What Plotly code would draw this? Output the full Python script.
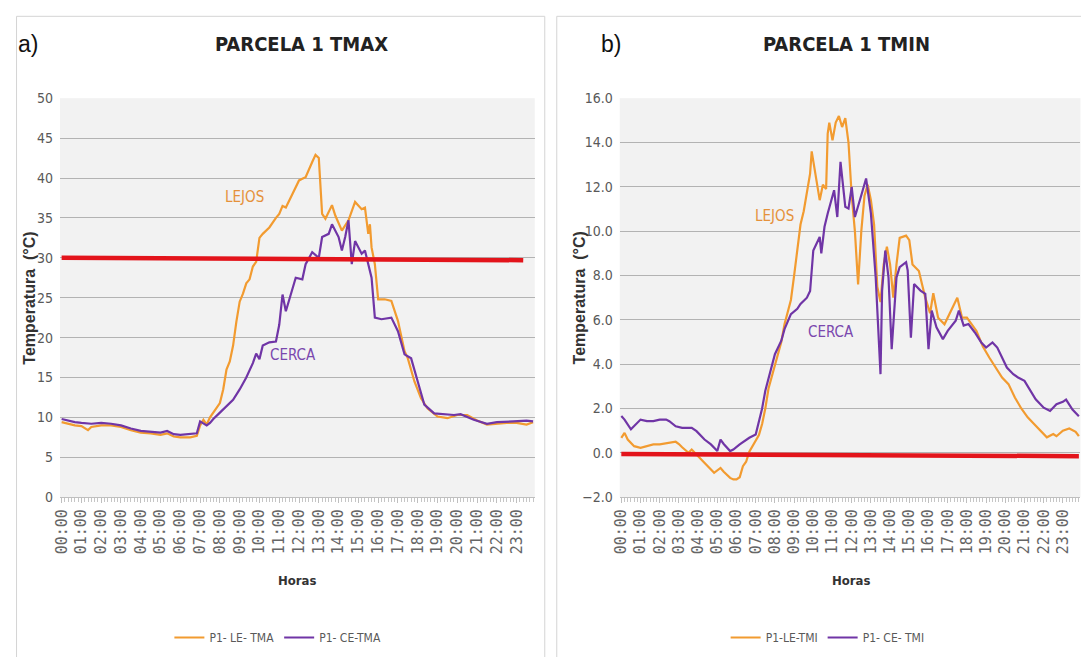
import plotly.graph_objects as go

# ---------------- DATA ----------------
hour_labels = ["00:00", "01:00", "02:00", "03:00", "04:00", "05:00", "06:00", "07:00",
               "08:00", "09:00", "10:00", "11:00", "12:00", "13:00", "14:00", "15:00",
               "16:00", "17:00", "18:00", "19:00", "20:00", "21:00", "22:00", "23:00"]

# a) PARCELA 1 TMAX - LEJOS (P1- LE- TMA)
tmax_lejos_t = ["00:00", "00:20", "00:40", "01:00", "01:20", "01:30", "02:00", "02:30", "03:00", "03:30",
                "04:00", "04:30", "05:00", "05:20", "05:40", "06:00", "06:30", "06:50", "07:00", "07:10",
                "07:20", "07:30", "07:40", "08:00", "08:10", "08:20", "08:30", "08:40", "08:50", "09:00",
                "09:10", "09:20", "09:30", "09:40", "09:50", "10:00", "10:10", "10:30", "10:50", "11:00",
                "11:10", "11:20", "11:40", "12:00", "12:10", "12:20", "12:40", "12:50", "13:00", "13:10",
                "13:20", "13:40", "13:50", "14:10", "14:30", "14:50", "15:10", "15:20", "15:30", "15:35",
                "15:40", "15:50", "16:00", "16:20", "16:40", "17:00", "17:20", "17:30", "17:50", "18:10",
                "18:30", "19:00", "19:30", "20:00", "20:30", "21:00", "21:30", "22:00", "22:30", "23:00",
                "23:30", "23:50"]
tmax_lejos_v = [9.4, 9.2, 9.0, 8.9, 8.4, 8.8, 9.0, 9.0, 8.8, 8.4,
                8.1, 8.0, 7.8, 8.0, 7.6, 7.5, 7.5, 7.7, 9.0, 9.7,
                9.1, 10.0, 10.6, 11.8, 13.5, 16.0, 17.0, 19.0, 22.0, 24.5,
                25.5, 26.8, 27.3, 28.9, 29.5, 32.5, 33.0, 33.8, 35.0, 35.5,
                36.5, 36.3, 38.0, 39.7, 39.9, 40.1, 42.0, 42.9, 42.5, 35.5,
                34.9, 36.6, 35.3, 33.4, 34.7, 37.0, 36.1, 36.3, 33.0, 34.2,
                31.3, 29.2, 24.8, 24.8, 24.6, 22.1, 18.3, 17.4, 14.5, 12.4,
                11.1, 10.1, 9.9, 10.3, 10.3, 9.6, 9.1, 9.2, 9.3, 9.3,
                9.1, 9.4]

# a) PARCELA 1 TMAX - CERCA (P1- CE-TMA)
tmax_cerca_t = ["00:00", "00:20", "00:40", "01:00", "01:30", "02:00", "02:30", "03:00", "03:30", "04:00",
                "04:30", "05:00", "05:20", "05:40", "06:00", "06:30", "06:50", "07:00", "07:10", "07:20",
                "07:30", "07:40", "08:00", "08:20", "08:40", "09:00", "09:20", "09:40", "09:50", "10:00",
                "10:10", "10:30", "10:50", "11:00", "11:10", "11:20", "11:40", "11:50", "12:10", "12:20",
                "12:40", "13:00", "13:10", "13:30", "13:40", "14:00", "14:10", "14:20", "14:30", "14:40",
                "14:50", "15:10", "15:20", "15:40", "15:50", "16:10", "16:40", "17:00", "17:20", "17:40",
                "18:00", "18:20", "18:50", "19:50", "20:10", "20:50", "21:30", "22:00", "22:50", "23:30",
                "23:50"]
tmax_cerca_v = [9.8, 9.6, 9.4, 9.3, 9.2, 9.3, 9.2, 9.0, 8.6, 8.3,
                8.2, 8.1, 8.3, 7.9, 7.8, 7.9, 8.0, 9.5, 9.3, 9.0,
                9.3, 9.8, 10.6, 11.4, 12.2, 13.5, 15.0, 16.8, 18.0, 17.3,
                19.0, 19.4, 19.5, 21.6, 25.4, 23.3, 26.3, 27.5, 27.3, 29.2,
                30.7, 30.0, 32.6, 33.0, 34.2, 32.6, 30.9, 32.6, 34.7, 29.2,
                32.1, 30.5, 30.9, 27.5, 22.5, 22.3, 22.5, 20.8, 17.9, 17.4,
                14.5, 11.6, 10.5, 10.3, 10.4, 9.7, 9.2, 9.4, 9.5, 9.6,
                9.5]

# a) umbral 30 °C
tmax_umbral_t = ["00:00", "23:20"]
tmax_umbral_v = [30.0, 29.7]

# b) PARCELA 1 TMIN - LEJOS (P1-LE-TMI)
tmin_lejos_t = ["00:00", "00:10", "00:20", "00:40", "01:00", "01:20", "01:40", "02:00", "02:20", "02:40",
                "02:50", "03:00", "03:10", "03:30", "03:40", "04:00", "04:20", "04:40", "04:50", "05:10",
                "05:20", "05:40", "05:50", "06:00", "06:10", "06:20", "06:30", "06:40", "06:50", "07:00",
                "07:10", "07:20", "07:30", "07:40", "08:00", "08:20", "08:30", "08:50", "09:00", "09:10",
                "09:20", "09:30", "09:40", "09:50", "09:55", "10:10", "10:20", "10:30", "10:40", "10:45",
                "10:50", "11:00", "11:10", "11:20", "11:30", "11:40", "11:50", "12:00", "12:10", "12:20",
                "12:30", "12:40", "12:50", "13:00", "13:10", "13:20", "13:30", "13:40", "13:50", "14:00",
                "14:10", "14:20", "14:30", "14:50", "15:00", "15:10", "15:30", "15:40", "15:50", "16:05",
                "16:15", "16:30", "16:50", "17:10", "17:30", "17:45", "18:00", "18:30", "18:50", "19:10",
                "19:30", "19:50", "20:10", "20:30", "20:50", "21:10", "21:30", "21:50", "22:10", "22:30",
                "22:40", "23:00", "23:20", "23:40", "23:50"]
tmin_lejos_v = [0.68, 0.9, 0.6, 0.3, 0.23, 0.3, 0.38, 0.38, 0.42, 0.45,
                0.5, 0.4, 0.25, 0.0, 0.15, -0.15, -0.45, -0.76, -0.9, -0.68,
                -0.85, -1.13, -1.2, -1.2, -1.1, -0.6, -0.4, 0.05, 0.3, 0.5,
                0.8, 1.3, 2.0, 2.9, 4.0, 5.0, 5.8, 6.9, 8.0, 9.1,
                10.3, 10.9, 11.8, 12.6, 13.6, 12.3, 11.4, 12.1, 11.9, 14.4,
                14.9, 14.1, 14.9, 15.2, 14.7, 15.1, 14.0, 11.6, 10.0, 7.6,
                10.0, 11.6, 12.1, 11.4, 10.3, 7.5, 6.8, 8.5, 9.3, 8.5,
                7.0, 8.5, 9.7, 9.8, 9.6, 8.5, 8.2, 7.6, 7.0, 6.3,
                7.2, 6.1, 5.8, 6.4, 7.0, 6.1, 6.1, 5.5, 4.8, 4.3,
                3.85, 3.4, 3.1, 2.5, 2.0, 1.6, 1.3, 1.0, 0.7, 0.85,
                0.75, 1.0, 1.1, 0.95, 0.75]

# b) PARCELA 1 TMIN - CERCA (P1- CE- TMI)
tmin_cerca_t = ["00:00", "00:10", "00:30", "00:40", "01:00", "01:20", "01:40", "02:00", "02:20", "02:30",
                "02:50", "03:10", "03:40", "03:55", "04:20", "04:40", "05:00", "05:10", "05:20", "05:40",
                "05:50", "06:10", "06:30", "06:40", "07:00", "07:10", "07:20", "07:30", "07:50", "08:00",
                "08:20", "08:30", "08:50", "09:10", "09:20", "09:40", "09:50", "10:00", "10:10", "10:20",
                "10:25", "10:35", "10:45", "11:05", "11:15", "11:25", "11:40", "11:50", "12:00", "12:10",
                "12:30", "12:45", "13:00", "13:15", "13:30", "13:35", "13:45", "13:55", "14:05", "14:20",
                "14:30", "14:50", "14:55", "15:05", "15:15", "15:35", "15:50", "16:00", "16:10", "16:25",
                "16:45", "17:00", "17:25", "17:35", "17:50", "18:05", "18:25", "18:45", "19:00", "19:20",
                "19:35", "19:50", "20:05", "20:25", "20:40", "21:00", "21:15", "21:35", "22:00", "22:20",
                "22:40", "23:00", "23:10", "23:30", "23:50"]
tmin_cerca_v = [1.66, 1.5, 1.06, 1.2, 1.5, 1.43, 1.43, 1.5, 1.5, 1.43,
                1.2, 1.13, 1.13, 0.98, 0.6, 0.38, 0.08, 0.6, 0.4, 0.08,
                0.15, 0.38, 0.6, 0.68, 0.83, 1.43, 2.0, 2.8, 3.85, 4.45,
                5.06, 5.58, 6.26, 6.5, 6.72, 7.0, 7.3, 9.13, 9.43, 9.74,
                9.0, 10.2, 10.8, 11.85, 10.64, 13.13, 11.1, 11.02, 12.0, 10.64,
                11.62, 12.38, 10.8, 7.92, 3.55, 7.32, 9.13, 7.92, 4.68, 7.92,
                8.38, 8.6, 8.23, 5.2, 7.62, 7.32, 7.17, 4.68, 6.42, 5.66,
                5.13, 5.5, 5.96, 6.42, 5.74, 5.81, 5.43, 4.98, 4.75, 4.98,
                4.75, 4.3, 3.85, 3.55, 3.4, 3.25, 2.87, 2.42, 2.04, 1.89,
                2.19, 2.3, 2.4, 1.95, 1.65]

# b) umbral 0 °C
tmin_umbral_t = ["00:00", "23:50"]
tmin_umbral_v = [-0.05, -0.15]

# ---------------- STYLE ----------------
PAGE_MARGIN = 8                       # default body margin of the html page
W, H = 1089 - 2 * PAGE_MARGIN, 665 - 2 * PAGE_MARGIN
NARROW = "Noto Sans Condensed, DejaVu Sans Condensed, Roboto Condensed, Roboto, sans-serif"
ARIAL = "Liberation Sans, Arial, sans-serif"
ORANGE = "#F29B30"
PURPLE = "#7035A6"
RED = "#E3141B"
GRID = "#b3b3b3"
TICKGRAY = "#595959"

# empirical correction between target picture position and page position
CX0, CXS = 8.05, 0.993
CY0, CYS = 9.2, 0.973


def to_h(t):
    hh, mm = t.split(":")
    return int(hh) + int(mm) / 60.0


def px(x):
    """target picture x pixel -> paper coordinate"""
    p = (x - CX0) / CXS
    return (p - PAGE_MARGIN) / W


def py(y):
    """target picture y pixel -> paper coordinate"""
    p = (y - CY0) / CYS
    return 1 - (p - PAGE_MARGIN) / H


def nfont(size, color, weight="normal"):
    return dict(family=NARROW, size=size, color=color, weight=weight)


hour_vals = [to_h(t) for t in hour_labels]

fig = go.Figure()

# left panel
fig.add_trace(go.Scatter(x=[to_h(t) for t in tmax_lejos_t], y=tmax_lejos_v, mode="lines",
                         name="P1- LE- TMA", line=dict(color=ORANGE, width=2.2),
                         xaxis="x", yaxis="y", legend="legend"))
fig.add_trace(go.Scatter(x=[to_h(t) for t in tmax_cerca_t], y=tmax_cerca_v, mode="lines",
                         name="P1- CE-TMA", line=dict(color=PURPLE, width=2.2),
                         xaxis="x", yaxis="y", legend="legend"))
fig.add_trace(go.Scatter(x=[to_h(t) for t in tmax_umbral_t], y=tmax_umbral_v, mode="lines",
                         name="30 °C", line=dict(color=RED, width=4.5), showlegend=False,
                         xaxis="x", yaxis="y"))

# right panel
fig.add_trace(go.Scatter(x=[to_h(t) for t in tmin_lejos_t], y=tmin_lejos_v, mode="lines",
                         name="P1-LE-TMI", line=dict(color=ORANGE, width=2.2),
                         xaxis="x2", yaxis="y2", legend="legend2"))
fig.add_trace(go.Scatter(x=[to_h(t) for t in tmin_cerca_t], y=tmin_cerca_v, mode="lines",
                         name="P1- CE- TMI", line=dict(color=PURPLE, width=2.2),
                         xaxis="x2", yaxis="y2", legend="legend2"))
fig.add_trace(go.Scatter(x=[to_h(t) for t in tmin_umbral_t], y=tmin_umbral_v, mode="lines",
                         name="0 °C", line=dict(color=RED, width=4.5), showlegend=False,
                         xaxis="x2", yaxis="y2"))

xcommon = dict(range=[-1 / 12, 24 - 1 / 12], tickmode="array", tickvals=hour_vals, ticktext=hour_labels,
               tickangle=-90, ticks="outside", ticklen=5, tickcolor="#bfbfbf",
               minor=dict(tick0=0, dtick=1 / 6, ticks="outside", ticklen=4, tickcolor="#c6c6c6"),
               showline=True, linecolor="#bfbfbf", linewidth=1, showgrid=False, zeroline=False,
               tickfont=dict(family="DejaVu Sans Mono, monospace", size=15, color="#666666"),
               fixedrange=True)
ycommon = dict(showgrid=True, gridcolor=GRID, gridwidth=1, zeroline=False, showline=False,
               ticks="", ticklabelstandoff=6,
               tickfont=nfont(14, TICKGRAY), fixedrange=True)

plot_top, plot_bot = 99, 497

fig.update_layout(
    width=W, height=H,
    autosize=False,
    margin=dict(l=0, r=0, t=0, b=0),
    paper_bgcolor="white",
    plot_bgcolor="#f2f2f2",
    xaxis=dict(domain=[px(60), px(535)], anchor="y", **xcommon),
    yaxis=dict(domain=[py(plot_bot), py(plot_top)], anchor="x", range=[0, 50], dtick=5, **ycommon),
    xaxis2=dict(domain=[px(620), min(px(1082), 0.9995)], anchor="y2", **xcommon),
    yaxis2=dict(domain=[py(plot_bot), py(plot_top)], anchor="x2", range=[-2, 16], dtick=2,
                tickformat=".1f", **ycommon),
    legend=dict(orientation="h", x=px(278), xanchor="center", y=py(637), yanchor="middle",
                font=nfont(12, TICKGRAY), bgcolor="rgba(0,0,0,0)", itemwidth=30),
    legend2=dict(orientation="h", x=px(828), xanchor="center", y=py(637), yanchor="middle",
                 font=nfont(12, TICKGRAY), bgcolor="rgba(0,0,0,0)", itemwidth=30),
)

# panel frames
for x0, x1 in [(0.0005, px(545)), (px(557), 1.02)]:
    fig.add_shape(type="rect", xref="paper", yref="paper", x0=x0, x1=x1, y0=-0.02, y1=0.9995,
                  line=dict(color="#d4d4d4", width=1), fillcolor="rgba(0,0,0,0)", layer="below")


def ann(text, x, y, font, angle=0):
    fig.add_annotation(text=text, x=px(x), y=py(y), xref="paper", yref="paper",
                       showarrow=False, xanchor="center", yanchor="middle", textangle=angle, font=font)


ann("PARCELA 1 TMAX", 302, 45, nfont(20, "#222222", "bold"))
ann("PARCELA 1 TMIN", 847, 45, nfont(20, "#222222", "bold"))
ann("a)", 28, 45, dict(family=ARIAL, size=23, color="#111111"))
ann("b)", 611, 45, dict(family=ARIAL, size=23, color="#111111"))
ann("Temperatura  (°C)", 30, 298, dict(family=ARIAL, size=16, color="#333333", weight="bold"), angle=-90)
ann("Temperatura  (°C)", 580, 298, dict(family=ARIAL, size=16, color="#333333", weight="bold"), angle=-90)
ann("Horas", 297, 580, nfont(13, "#333333", "bold"))
ann("Horas", 851, 580, nfont(13, "#333333", "bold"))
ann("LEJOS", 245, 198, nfont(15, "#E5913A"))
ann("CERCA", 293, 355, nfont(15, "#7A48AE"))
ann("LEJOS", 775, 217, nfont(15, "#E5913A"))
ann("CERCA", 831, 332, nfont(15, "#7A48AE"))

fig.write_html("out.html", config={"displayModeBar": False})
